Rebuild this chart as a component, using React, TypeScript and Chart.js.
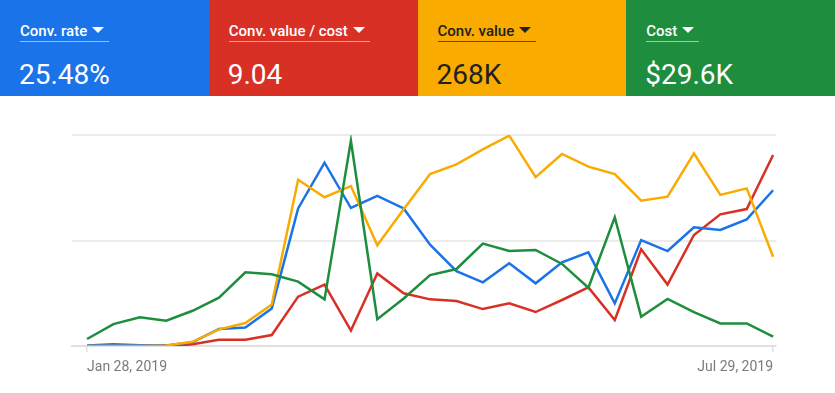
import React, { useEffect, useRef } from "react";
import { Chart, registerables } from "chart.js";

Chart.register(...registerables);

const weeks = [
  "Jan 28, 2019", "Feb 4, 2019", "Feb 11, 2019", "Feb 18, 2019", "Feb 25, 2019",
  "Mar 4, 2019", "Mar 11, 2019", "Mar 18, 2019", "Mar 25, 2019", "Apr 1, 2019",
  "Apr 8, 2019", "Apr 15, 2019", "Apr 22, 2019", "Apr 29, 2019", "May 6, 2019",
  "May 13, 2019", "May 20, 2019", "May 27, 2019", "Jun 3, 2019", "Jun 10, 2019",
  "Jun 17, 2019", "Jun 24, 2019", "Jul 1, 2019", "Jul 8, 2019", "Jul 15, 2019",
  "Jul 22, 2019", "Jul 29, 2019",
];
const axisLabelWeeks = [0, 26];

// Each metric is plotted as a % of its own maximum range (as in the Google Ads overview chart)
const convRate = [0.2, 0.8, 0.3, 0.3, 1.8, 8.1, 8.8, 17.8, 65.2, 86.9, 65.4, 71.1, 65.2, 48, 35.5, 30.2, 39.2, 29.7, 39.7, 44.4, 20.2, 50.2, 45.0, 56.3, 55.0, 60.0, 73.8];
const convValuePerCost = [0, 0, 0, 0, 0.8, 3.0, 3.0, 5.2, 23.4, 29.1, 7.3, 34.4, 25.0, 22.1, 21.3, 17.5, 20.2, 16.1, 21.8, 27.8, 12.3, 45.8, 29.1, 52.6, 62.4, 64.9, 90.5];
const convValue = [0, 0, 0, 0.2, 2.0, 7.9, 10.9, 19.7, 78.8, 70.5, 75.8, 47.7, 64.8, 81.5, 86.1, 93.2, 99.7, 80.0, 91.0, 85.0, 81.5, 68.9, 70.8, 91.3, 71.6, 74.7, 42.3];
const cost = [3.3, 10.4, 13.6, 12.0, 16.7, 22.9, 34.9, 34.0, 30.5, 22.1, 97.3, 12.7, 22.5, 33.6, 36.5, 48.5, 45.0, 45.5, 38.9, 27.6, 61.0, 13.9, 22.3, 16.0, 10.7, 10.7, 4.4];

const tileLabels = ["Conv. rate", "Conv. value / cost", "Conv. value", "Cost"];
const tileValues = ["25.48%", "9.04", "268K", "$29.6K"];
const tileColors = ["#1a73e8", "#d93025", "#f9ab00", "#1e8e3e"];
const tileText = ["#ffffff", "#ffffff", "#202124", "#ffffff"];
const tileRule = ["rgba(255,255,255,0.55)", "rgba(255,255,255,0.55)", "rgba(32,33,36,0.7)", "rgba(255,255,255,0.55)"];

// first entry is drawn on top
const seriesList = [cost, convValue, convRate, convValuePerCost];
const seriesColors = ["#1e8e3e", "#f9ab00", "#1a73e8", "#d93025"];
const seriesNames = ["Cost", "Conv. value", "Conv. rate", "Conv. value / cost"];

function Tile({ i }: { i: number }) {
  return (
    <div style={{ flex: 1, background: tileColors[i], color: tileText[i], position: "relative", height: 96 }}>
      <div style={{ position: "absolute", left: 20, top: 21 }}>
        <div
          style={{
            display: "inline-flex",
            alignItems: "center",
            fontSize: 15,
            fontWeight: 500,
            lineHeight: "20px",
            height: 20,
            borderBottom: `1.5px solid ${tileRule[i]}`,
            paddingRight: 5,
            whiteSpace: "nowrap",
          }}
        >
          <span>{tileLabels[i]}</span>
          <span
            style={{
              display: "inline-block",
              width: 0,
              height: 0,
              marginLeft: 5,
              marginTop: -2,
              borderLeft: "6px solid transparent",
              borderRight: "6px solid transparent",
              borderTop: `6px solid ${tileText[i]}`,
            }}
          />
        </div>
      </div>
      <div style={{ position: "absolute", left: 19, top: 58, fontSize: 28, lineHeight: "34px", whiteSpace: "nowrap" }}>
        {tileValues[i]}
      </div>
    </div>
  );
}

export default function App() {
  const ref = useRef<HTMLCanvasElement | null>(null);

  useEffect(() => {
    document.body.style.margin = "0";
    if (!ref.current) return;
    Chart.defaults.font.family = "Roboto";
    const chart = new Chart(ref.current, {
      type: "line",
      data: {
        datasets: seriesList.map((s, k) => ({
          label: seriesNames[k],
          data: s.map((v, i) => ({ x: i, y: v })),
          borderColor: seriesColors[k],
          backgroundColor: seriesColors[k],
          borderWidth: 2.5,
          pointRadius: 0,
          tension: 0,
          fill: false,
        })),
      },
      options: {
        animation: false,
        responsive: false,
        devicePixelRatio: 1,
        layout: { padding: { top: 39, right: 59, left: 0, bottom: 0 } },
        plugins: { legend: { display: false }, tooltip: { enabled: false } },
        scales: {
          x: {
            type: "linear",
            min: -0.57,
            max: 26.11,
            afterBuildTicks: (axis: any) => {
              axis.ticks = axisLabelWeeks.map((v) => ({ value: v }));
            },
            afterFit: (axis: any) => {
              axis.height = 47;
            },
            ticks: {
              callback: (v: any) => weeks[Math.round(Number(v))],
              align: "inner",
              maxRotation: 0,
              autoSkip: false,
              color: "#7a7a7a",
              font: { size: 14, family: "Roboto" },
              padding: 7,
            },
            grid: {
              drawOnChartArea: false,
              drawTicks: true,
              tickLength: 6,
              color: "#e0e0e0",
              lineWidth: 1.5,
            },
            border: { display: true, color: "#e0e0e0", width: 2 },
          },
          y: {
            min: 0,
            max: 100,
            afterBuildTicks: (axis: any) => {
              axis.ticks = [0, 50, 100].map((v) => ({ value: v }));
            },
            afterFit: (axis: any) => {
              axis.width = 72;
            },
            ticks: { display: false },
            grid: { color: "#ebebeb", lineWidth: 2, drawTicks: false },
            border: { display: false },
          },
        },
      } as any,
    });
    return () => chart.destroy();
  }, []);

  return (
    <div style={{ position: "absolute", left: 0, top: 0, width: 835, height: 393, background: "#fff", fontFamily: "Roboto, sans-serif" }}>
      <div style={{ display: "flex", width: 835, height: 96 }}>
        {[0, 1, 2, 3].map((i) => (
          <Tile key={i} i={i} />
        ))}
      </div>
      <canvas ref={ref} width={835} height={297} style={{ display: "block", width: 835, height: 297 }} />
    </div>
  );
}
